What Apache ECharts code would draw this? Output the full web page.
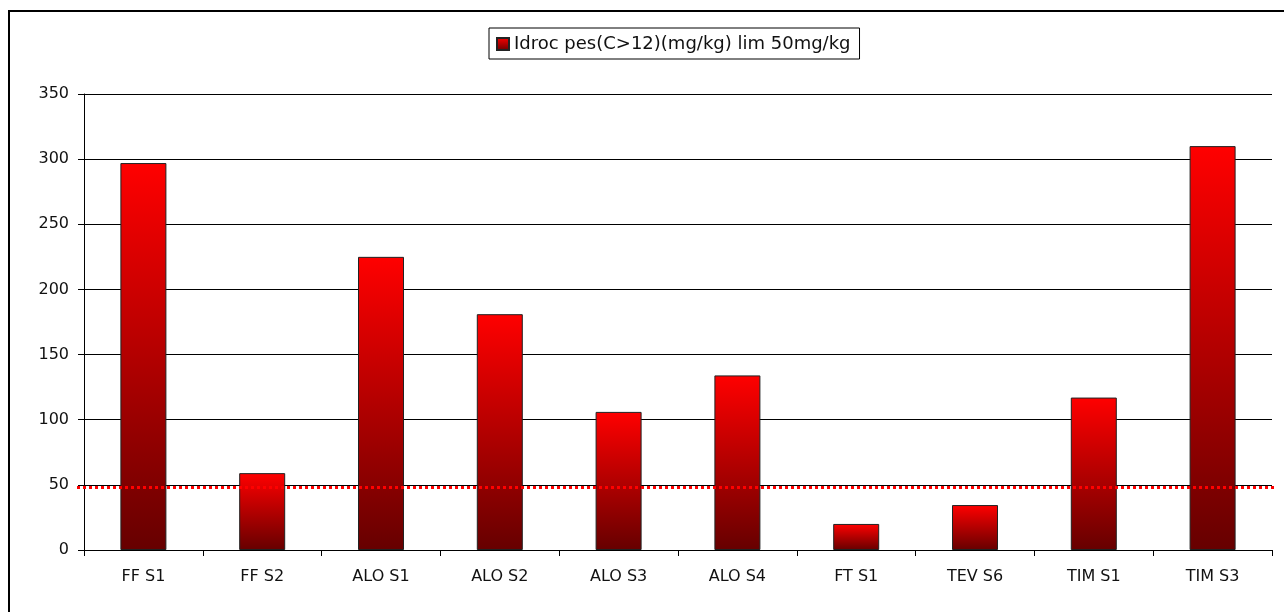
<!DOCTYPE html>
<html>
<head>
<meta charset="utf-8">
<script src="https://cdn.jsdelivr.net/npm/echarts@6/dist/echarts.min.js"></script>
<style>
html,body{margin:0;padding:0;background:#fff;overflow:hidden;}
#c{width:1284px;height:612px;position:absolute;left:0;top:0;}
#frame{position:absolute;left:8px;top:10px;width:1400px;height:800px;border-left:2px solid #000;border-top:2px solid #000;pointer-events:none;}
</style>
</head>
<body>
<div id="c"></div>
<div id="frame"></div>
<script>
const categories = ['FF S1','FF S2','ALO S1','ALO S2','ALO S3','ALO S4','FT S1','TEV S6','TIM S1','TIM S3'];
const values = [297, 59, 225, 181, 106, 134, 20, 34.5, 117, 310];
const seriesName = 'Idroc pes(C>12)(mg/kg) lim 50mg/kg';
const limitValue = 48;
const limitEnds = ['start','end'];
const yTicks = [0, 50, 100, 150, 200, 250, 300, 350];

const chart = echarts.init(document.getElementById('c'), null, {renderer:'canvas'});
const font = 'DejaVu Sans, Verdana, sans-serif';
const yMin = yTicks[0], yMax = yTicks[yTicks.length-1];
chart.setOption({
  animation:false,
  backgroundColor:'#fff',
  legend:{
    data:[{name:seriesName, icon:'rect'}],
    top:28, left:489,
    itemWidth:12, itemHeight:12, itemGap:7,
    padding:[7,9,6,7],
    borderColor:'#000', borderWidth:1,
    textStyle:{fontFamily:font, fontSize:18, color:'#111'}
  },
  grid:[
    {left:84, right:12, top:94, bottom:62},
    {left:77, right:7, top:94, bottom:62}
  ],
  xAxis:[{
    type:'category', data:categories, gridIndex:0,
    axisLine:{lineStyle:{color:'#000', width:1}},
    axisTick:{show:true, length:6, lineStyle:{color:'#000'}},
    axisLabel:{fontFamily:font, fontSize:16, color:'#111', margin:19}
  },{
    type:'category', data:limitEnds, gridIndex:1, boundaryGap:false, show:false
  }],
  yAxis:[{
    type:'value', min:yMin, max:yMax, interval:50, gridIndex:0,
    axisLine:{show:true, lineStyle:{color:'#000', width:1}},
    axisTick:{show:true, length:6, lineStyle:{color:'#000'}},
    axisLabel:{fontFamily:font, fontSize:16, color:'#111', margin:15},
    splitLine:{show:true, lineStyle:{color:'#000', width:1}}
  },{
    type:'value', min:yMin, max:yMax, gridIndex:1, show:false
  }],
  series:[{
    name:seriesName, type:'bar', data:values, barWidth:46,
    xAxisIndex:0, yAxisIndex:0,
    itemStyle:{
      color:new echarts.graphic.LinearGradient(0,0,0,1,[
        {offset:0, color:'#ff0000'},
        {offset:1, color:'#660000'}
      ]),
      borderColor:'#222', borderWidth:1
    }
  },{
    name:'limit', type:'line', xAxisIndex:1, yAxisIndex:1,
    data:[limitValue, limitValue], symbol:'none', silent:true, z:5,
    lineStyle:{color:'#ff0000', type:[3,3], width:3}
  }]
});
</script>
</body>
</html>
